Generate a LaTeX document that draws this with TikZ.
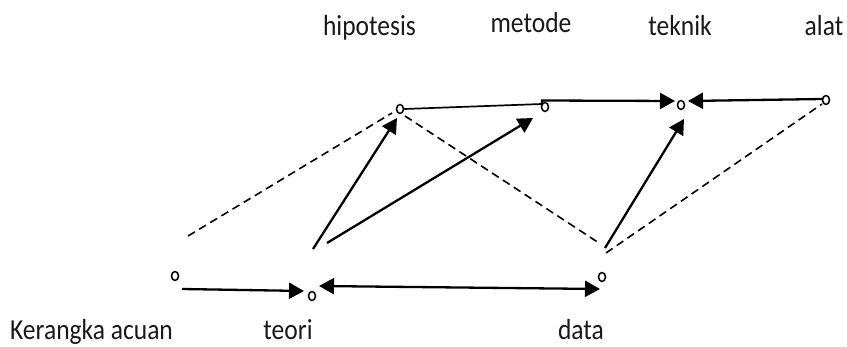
\documentclass[tikz,border=0pt]{standalone}
\usepackage{fontspec}
\setmainfont{Carlito}[FakeStretch=0.88]
\usetikzlibrary{arrows.meta,shapes.geometric}
\tikzset{
  lbl/.style={anchor=base,inner sep=0pt,font=\fontsize{29}{33}\selectfont,text=black!90},
  dot/.style={ellipse,draw,line width=1.5pt,minimum width=7pt,minimum height=9pt,inner sep=0pt},
  arr/.style={line width=2.3pt,-{Triangle[length=15pt,width=16pt]}},
  darr/.style={line width=2.3pt,{Triangle[length=15pt,width=16pt]}-{Triangle[length=15pt,width=16pt]}},
  dsh/.style={line width=1.6pt,dash pattern=on 8pt off 5pt},
  thin/.style={line width=1.7pt}
}
\begin{document}
\begin{tikzpicture}[x=1pt,y=-1pt]
\useasboundingbox (0,0) rectangle (847,347);
% labels
\node[lbl] (lhip) at (369.5,36) {hipotesis};
\node[lbl] (lmet) at (531,33) {metode};
\node[lbl] (ltek) at (680,36) {teknik};
\node[lbl] (lalat) at (824,36) {alat};
\node[lbl] (lka) at (91.5,340) {Kerangka acuan};
\node[lbl] (lteori) at (288,340) {teori};
\node[lbl] (ldata) at (581,340) {data};
% small circles
\node[dot] (KAc) at (175,276) {};
\node[dot] (Tc) at (312,296) {};
\node[dot] (Hc) at (400,109) {};
\node[dot] (Mc) at (545,107) {};
\node[dot] (Kc) at (681,105) {};
\node[dot] (Ac) at (826,100) {};
\node[dot] (Dc) at (602,277) {};
% connector ends
\coordinate (ka1) at (182,289);
\coordinate (ka2) at (304,291);
\coordinate (td1) at (319,286);
\coordinate (td2) at (600,289);
\coordinate (th1) at (313,249);
\coordinate (th2) at (397,118);
\coordinate (tm1) at (327,243);
\coordinate (tm2) at (533,118);
\coordinate (mk0) at (542,104);
\coordinate (mk1) at (542,100.5);
\coordinate (mk2) at (675,101);
\coordinate (ak1) at (823,99);
\coordinate (ak2) at (688,101);
\coordinate (dk1) at (605,248);
\coordinate (dk2) at (684,119);
\coordinate (d1a) at (188,236);
\coordinate (d1b) at (392,113);
\coordinate (d2a) at (405,116);
\coordinate (d2b) at (599,243);
\coordinate (d3a) at (606,253);
\coordinate (d3b) at (822,104);
% solid connectors
\draw[arr] (ka1) -- (ka2);
\draw[darr] (td1) -- (td2);
\draw[arr] (th1) -- (th2);
\draw[arr] (tm1) -- (tm2);
\draw[thin] (Hc.east) -- (mk0);
\draw[arr] (mk0) -- (mk1) -- (mk2);
\draw[arr] (ak1) -- (ak2);
\draw[arr] (dk1) -- (dk2);
% dashed connectors
\draw[dsh] (d1a) -- (d1b);
\draw[dsh] (d2a) -- (d2b);
\draw[dsh] (d3a) -- (d3b);
\end{tikzpicture}
\end{document}
